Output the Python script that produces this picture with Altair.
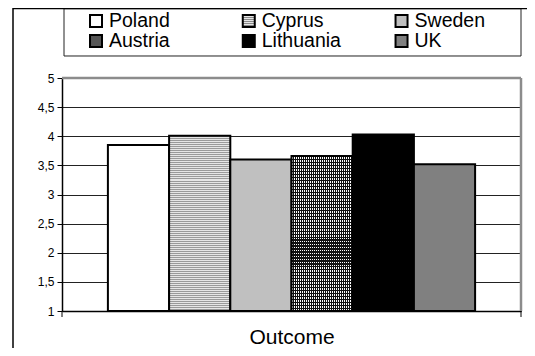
import altair as alt
import pandas as pd

countries = ["Poland", "Cyprus", "Sweden", "Austria", "Lithuania", "UK"]
values = [3.85, 4.01, 3.60, 3.66, 4.03, 3.52]
legend_cols = [0, 1, 2, 0, 1, 2]
legend_rows = [0, 0, 0, 1, 1, 1]
y_ticks = [1, 1.5, 2, 2.5, 3, 3.5, 4, 4.5, 5]
x_title = "Outcome"

FONT = "Liberation Sans, Arial, sans-serif"
W, H = 459, 233

df = pd.DataFrame({"country": countries, "value": values,
                   "col": legend_cols, "row": legend_rows})
one = pd.DataFrame({"k": [0]})


def stripes(n, c1, c2, along_y=True, duty=0.5):
    stops = []
    for k in range(n):
        o0, o1, o2 = k / n, (k + duty) / n, (k + 1) / n
        stops += [alt.GradientStop(offset=o0, color=c1),
                  alt.GradientStop(offset=o1, color=c1),
                  alt.GradientStop(offset=o1, color=c2),
                  alt.GradientStop(offset=o2, color=c2)]
    if along_y:
        return alt.Gradient(gradient="linear", stops=stops, x1=0, x2=0, y1=0, y2=1)
    return alt.Gradient(gradient="linear", stops=stops, x1=0, x2=1, y1=0, y2=0)


def bar_px(v):
    return (v - 1) / 4 * H


X = alt.X("country:N",
          scale=alt.Scale(domain=countries, paddingInner=0, paddingOuter=0.75),
          axis=alt.Axis(labels=False, ticks=False, title=x_title, domainColor="black",
                        domainWidth=1.5, titleFontSize=21, titleFontWeight="normal",
                        titleFont=FONT, titleColor="black", titleY=32.5,
                        titleBaseline="alphabetic"))
Y = alt.Y("value:Q",
          scale=alt.Scale(domain=[1, 5], nice=False, zero=False),
          axis=alt.Axis(values=y_ticks, format="~g",
                        labelExpr="replace(datum.label, '.', ',')",
                        grid=True, gridColor="#222222", gridWidth=1,
                        tickSize=5, tickColor="black", domainColor="black",
                        domainWidth=1.5, labelFontSize=12, labelFont=FONT,
                        labelColor="black", labelPadding=3, title=None))

step = W / 7.5
fills = {
    "Poland": "white",
    "Cyprus": stripes(round(bar_px(values[1]) / 2), "#9a9a9a", "#e6e6e6"),
    "Sweden": "#c0c0c0",
    "Austria": stripes(round(step / 2), "#111111", "white", along_y=False, duty=0.45),
    "Lithuania": "black",
    "UK": "#808080",
}

BAND = {"band": 1}
bars = []
for i, c in enumerate(countries):
    base = alt.Chart(df).transform_filter(alt.datum.country == c)
    if c == "Austria":
        bars.append(base.mark_bar(fill=fills[c], strokeWidth=0, width=BAND).encode(
            x=X, y=Y, y2=alt.datum(1)))
        over = stripes(round(bar_px(values[i]) / 3), "#111111", "rgba(0,0,0,0)", duty=0.4)
        bars.append(base.mark_bar(fill=over, stroke="black", strokeWidth=2,
                                  width=BAND).encode(x=X, y=Y, y2=alt.datum(1)))
    else:
        bars.append(base.mark_bar(fill=fills[c], stroke="black", strokeWidth=2,
                                  width=BAND).encode(x=X, y=Y, y2=alt.datum(1)))

deco = alt.Chart(one)
gray_top = deco.mark_rule(color="#8c8c8c", strokeWidth=2.5).encode(
    x=alt.value(0), x2=alt.value(W), y=alt.value(0))
gray_right = deco.mark_rule(color="#8c8c8c", strokeWidth=2.5).encode(
    x=alt.value(W), y=alt.value(0), y2=alt.value(H))
tick_l = deco.mark_rule(color="black", strokeWidth=1).encode(
    x=alt.value(0), y=alt.value(H), y2=alt.value(H + 6))
tick_r = deco.mark_rule(color="black", strokeWidth=1).encode(
    x=alt.value(W), y=alt.value(H), y2=alt.value(H + 6))
frame_left = deco.mark_rule(color="black", strokeWidth=1.5).encode(
    x=alt.value(-49), y=alt.value(-70), y2=alt.value(H + 40))
frame_top = deco.mark_rule(color="black", strokeWidth=1.2).encode(
    x=alt.value(-49), x2=alt.value(W + 10), y=alt.value(-69.3))
legend_box = deco.mark_rect(fill="white", stroke="#222222", strokeWidth=1).encode(
    x=alt.value(2), x2=alt.value(W), y=alt.value(-69.3), y2=alt.value(-22))

main = alt.layer(legend_box, *bars, gray_top, gray_right, tick_l, tick_r,
                 frame_left, frame_top)

LX = alt.X("col:Q", scale=alt.Scale(domain=[-0.2226, 2.782], nice=False, zero=False),
           axis=None)
LY = alt.Y("row:Q", scale=alt.Scale(domain=[2.85, 14.5], nice=False, zero=False,
                                    reverse=True), axis=None)

leg_fills = {
    "Poland": "white",
    "Cyprus": stripes(6, "#8a8a8a", "#e6e6e6"),
    "Sweden": "#c0c0c0",
    "Austria": "#555555",
    "Lithuania": "black",
    "UK": "#808080",
}
leg_layers = []
for c in countries:
    leg_layers.append(
        alt.Chart(df).transform_filter(alt.datum.country == c)
        .mark_point(shape="square", size=144, filled=True, fill=leg_fills[c],
                    stroke="black", strokeWidth=2, opacity=1)
        .encode(x=LX, y=LY))
leg_text = alt.Chart(df).mark_text(align="left", baseline="alphabetic", dx=13, dy=6,
                                   fontSize=19.5, font=FONT, color="black").encode(
    x=LX, y=LY, text="country:N")
legend = alt.layer(*leg_layers, leg_text)

chart = alt.layer(main, legend).resolve_scale(x="independent", y="independent").properties(
    width=W, height=H,
    autosize=alt.AutoSizeParams(type="none"),
    padding={"left": 54, "top": 70, "right": 6, "bottom": 37},
).configure_view(stroke=None).configure(font=FONT)

chart.save("out.html", embed_options={"renderer": "svg", "actions": False})
